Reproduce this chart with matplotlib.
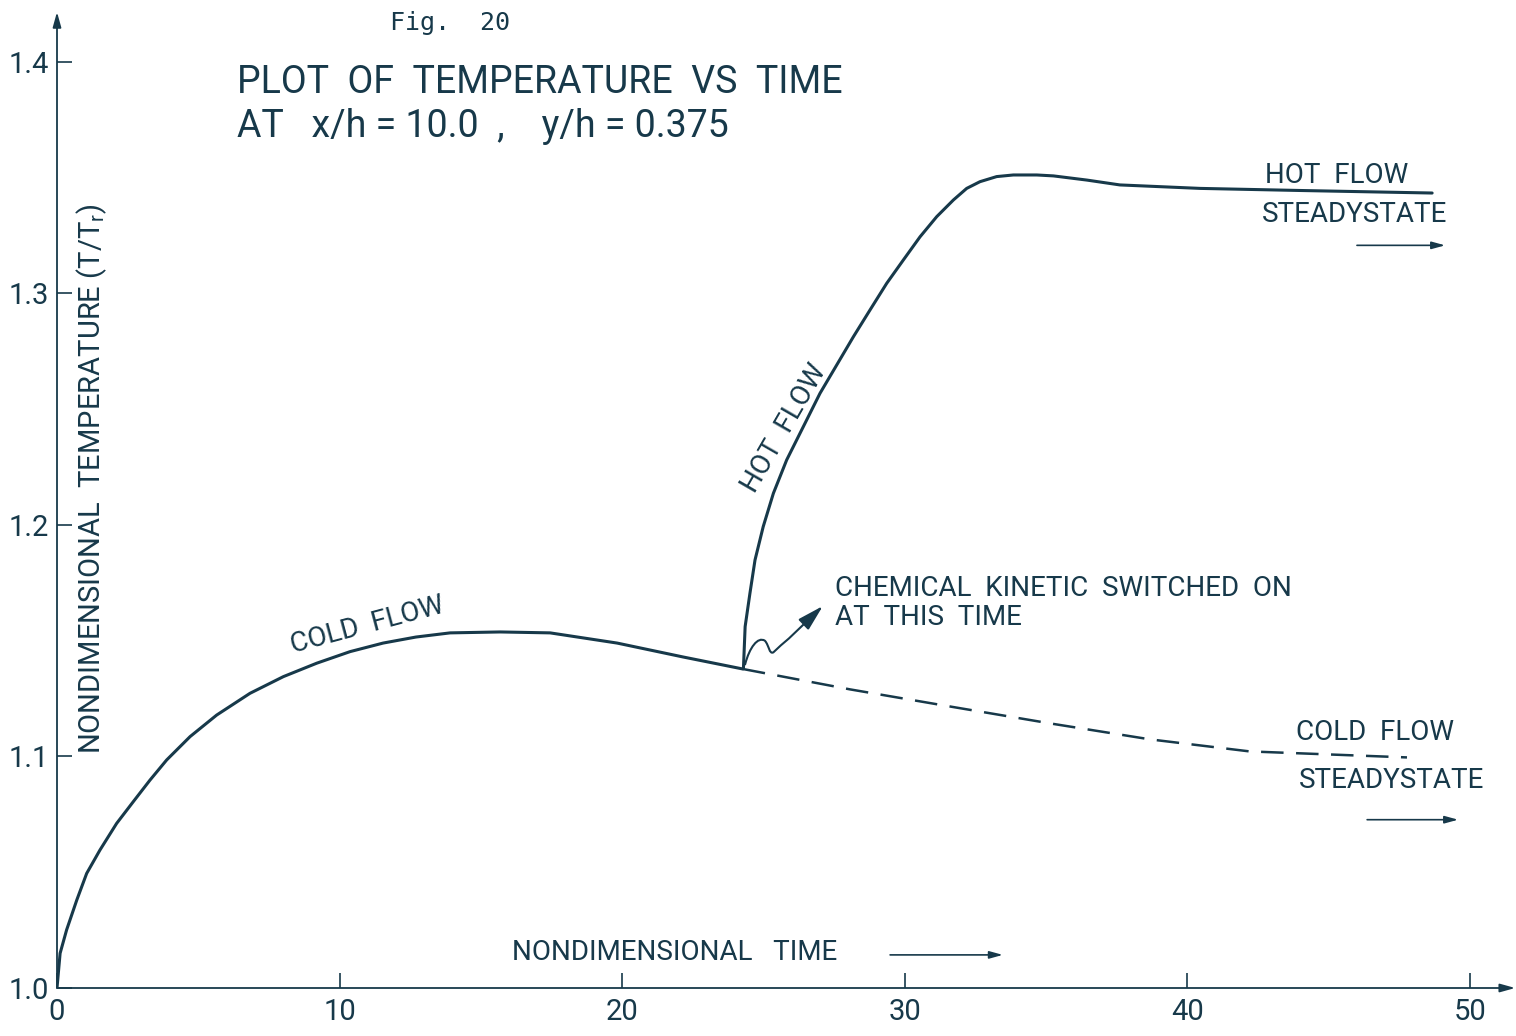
import matplotlib.pyplot as plt
from matplotlib.path import Path
from matplotlib.patches import FancyArrowPatch

ink = '#17394a'
font = 'Roboto'

# cold flow run, solid up to the time the kinetics are switched on
cold_t = [0, 0.11, 0.34, 0.70, 1.05, 1.52, 2.11, 2.70, 3.29, 3.88, 4.71, 5.65,
          6.83, 8.01, 9.19, 10.37, 11.54, 12.7, 13.91, 15.68, 17.45, 19.82,
          22.15, 24.27]
cold_T = [1.000, 1.015, 1.0251, 1.038, 1.0495, 1.0596, 1.0711, 1.0805, 1.0898,
          1.0985, 1.1086, 1.1179, 1.1273, 1.1345, 1.1403, 1.1453, 1.149,
          1.1516, 1.1534, 1.1538, 1.1534, 1.149, 1.143, 1.1378]

# cold flow continued without chemistry (dashed)
cold_ss_t = [24.27, 28.06, 31.6, 35.14, 38.68, 42.2, 47.77]
cold_ss_T = [1.1378, 1.129, 1.1216, 1.1143, 1.1074, 1.1022, 1.0996]

# hot flow after the kinetics are switched on
hot_t = [24.29, 24.35, 24.52, 24.70, 24.99, 25.35, 25.82, 26.41, 27.0, 27.59,
         28.18, 28.77, 29.36, 29.95, 30.54, 31.13, 31.72, 32.19, 32.66, 33.25,
         33.84, 34.67, 35.26, 36.44, 37.61, 40.45, 43.98, 48.66]
hot_T = [1.1381, 1.1561, 1.1705, 1.1849, 1.1993, 1.2137, 1.2281, 1.2425,
         1.2569, 1.2691, 1.2813, 1.2929, 1.3044, 1.3145, 1.3245, 1.3332,
         1.3404, 1.3454, 1.3483, 1.3505, 1.3512, 1.3512, 1.3508, 1.349,
         1.3469, 1.3454, 1.3445, 1.3434]

x_ticks = [0, 10, 20, 30, 40, 50]
y_ticks = [1.0, 1.1, 1.2, 1.3, 1.4]

plt.rcParams['font.family'] = [font, 'DejaVu Sans']

fig = plt.figure(figsize=(15.16, 10.36), dpi=100)
ax = fig.add_axes([57 / 1516, 48 / 1036, 1413 / 1516, 926 / 1036])
ax.set_xlim(0, 50)
ax.set_ylim(1.0, 1.4)
for s in ax.spines.values():
    s.set_visible(False)

# axes drawn by hand with arrow heads
arr = dict(arrowstyle='-|>,head_length=0.9,head_width=0.25', color=ink, lw=1.3,
           shrinkA=0, shrinkB=0)
ax.annotate('', xy=(51.6, 1.0), xytext=(0, 1.0), arrowprops=arr,
            annotation_clip=False)
ax.annotate('', xy=(0, 1.4216), xytext=(0, 1.0), arrowprops=arr,
            annotation_clip=False)

ax.set_xticks(x_ticks, [str(v) for v in x_ticks])
ax.set_yticks(y_ticks, ['%.1f' % v for v in y_ticks])
ax.tick_params(direction='in', length=11, width=1.2, color=ink,
               labelcolor=ink, labelsize=21)
ax.tick_params(axis='x', pad=7)
ax.tick_params(axis='y', pad=6)

# curves
ax.plot(cold_t, cold_T, color=ink, lw=2.2, solid_capstyle='round',
        solid_joinstyle='round')
ax.plot(hot_t, hot_T, color=ink, lw=2.2, solid_capstyle='round',
        solid_joinstyle='round')
ax.plot(cold_ss_t, cold_ss_T, color=ink, lw=1.8, dashes=(9, 5))

txt = dict(color=ink)

ax.text(11.78, 1.4168, 'Fig.  20', family=['DejaVu Sans Mono'], fontsize=18,
        color=ink, va='center', ha='left')
ax.text(6.37, 1.3913, 'PLOT  OF  TEMPERATURE  VS  TIME', fontsize=27,
        va='center', ha='left', **txt)
ax.text(6.37, 1.3723, 'AT   x/h = 10.0  ,    y/h = 0.375', fontsize=27,
        va='center', ha='left', **txt)

ax.text(1.24, 1.2199, 'NONDIMENSIONAL  TEMPERATURE (T/T$_\\mathregular{r}$)',
        fontsize=21, rotation=90, va='center', ha='center', **txt)

ax.text(11.0, 1.1565, 'COLD  FLOW', fontsize=20, rotation=15,
        va='center', ha='center', rotation_mode='anchor', **txt)
ax.text(25.75, 1.2416, 'HOT  FLOW', fontsize=20, rotation=60,
        va='center', ha='center', rotation_mode='anchor', **txt)

ax.text(27.53, 1.1727, 'CHEMICAL  KINETIC  SWITCHED  ON', fontsize=20,
        va='center', ha='left', **txt)
ax.text(27.53, 1.1602, 'AT  THIS  TIME', fontsize=20,
        va='center', ha='left', **txt)

ax.text(42.75, 1.3511, 'HOT  FLOW', fontsize=20, va='center', ha='left', **txt)
ax.text(42.64, 1.3342, 'STEADYSTATE', fontsize=20, va='center', ha='left', **txt)
ax.text(43.84, 1.1104, 'COLD  FLOW', fontsize=20, va='center', ha='left', **txt)
ax.text(43.95, 1.0896, 'STEADYSTATE', fontsize=20, va='center', ha='left', **txt)
ax.text(16.1, 1.0152, 'NONDIMENSIONAL   TIME', fontsize=20,
        va='center', ha='left', **txt)

# small pointer arrows
pt = dict(arrowstyle='-|>,head_length=0.8,head_width=0.22', color=ink, lw=1.2,
          shrinkA=0, shrinkB=0)
ax.annotate('', xy=(49.12, 1.3208), xytext=(46.0, 1.3208), arrowprops=pt,
            annotation_clip=False)
ax.annotate('', xy=(49.58, 1.0727), xytext=(46.36, 1.0727), arrowprops=pt,
            annotation_clip=False)
ax.annotate('', xy=(33.47, 1.0143), xytext=(29.48, 1.0143), arrowprops=pt,
            annotation_clip=False)

# wavy pointer from the switch-on point
wave = Path([(24.35, 1.1398), (24.5, 1.1470), (24.8, 1.1520), (25.05, 1.1500),
             (25.2, 1.1480), (25.2, 1.1440), (25.35, 1.1450),
             (25.6, 1.1480), (25.9, 1.1510), (27.1, 1.1650)],
            [Path.MOVETO, Path.CURVE4, Path.CURVE4, Path.CURVE4,
             Path.CURVE4, Path.CURVE4, Path.CURVE4,
             Path.CURVE3, Path.CURVE3, Path.LINETO])
ax.add_patch(FancyArrowPatch(path=wave, arrowstyle=pt['arrowstyle'],
                             color=ink, lw=1.5, mutation_scale=20))

fig.savefig('out.png', dpi=100, facecolor='white')
